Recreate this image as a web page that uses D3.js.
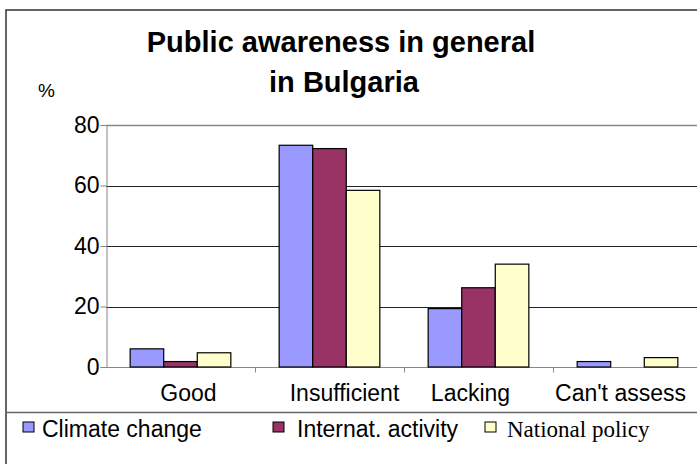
<!DOCTYPE html>
<html>
<head>
<meta charset="utf-8">
<script src="https://cdn.jsdelivr.net/npm/d3@7"></script>
<style>
  html, body { margin: 0; padding: 0; background: #fff; }
  svg { display: block; font-family: "Liberation Sans", Arial, sans-serif; }
</style>
</head>
<body>
<div id="chart"></div>
<script>
// data
const categories = ["Good", "Insufficient", "Lacking", "Can't assess"];
const seriesNames = ["Climate change", "Internat. activity", "National policy"];
const climateChange = [6, 73.3, 19.3, 1.8];
const internatActivity = [1.8, 72.2, 26.2, 0];
const nationalPolicy = [4.7, 58.4, 34, 3.1];
const yTicks = [0, 20, 40, 60, 80];
const colors = ["#9999ff", "#993366", "#ffffcc"];

const W = 697, H = 464;
const plot = { left: 106, right: 702, top: 125, bottom: 367 };
// the category labels are not quite centred under their groups in the original
const labelShift = [8, 15, -8, -7];

const svg = d3.select("#chart").append("svg")
    .attr("width", W)
    .attr("height", H);

// outer frame, runs off the right/bottom like the picture
svg.append("rect")
    .attr("x", 6).attr("y", 10)
    .attr("width", 760).attr("height", 500)
    .attr("fill", "none")
    .attr("stroke", "#333")
    .attr("stroke-width", 1.5);

const x0 = d3.scaleBand()
    .domain(categories)
    .range([plot.left, plot.right]);

const x1 = d3.scaleBand()
    .domain(seriesNames)
    .range([0, x0.bandwidth()])
    .paddingOuter(0.72)
    .paddingInner(0);

const y = d3.scaleLinear()
    .domain([0, 80])
    .range([plot.bottom, plot.top]);

// gridlines
svg.append("g")
    .selectAll("line")
    .data(yTicks.filter(d => d > 0))
    .join("line")
    .attr("x1", plot.left).attr("x2", W)
    .attr("y1", d => Math.round(y(d)) + 0.5)
    .attr("y2", d => Math.round(y(d)) + 0.5)
    .attr("stroke", d => d === 80 ? "#888" : "#222")
    .attr("stroke-width", d => d === 80 ? 1.5 : 1);

// y axis
const yAxis = svg.append("g")
    .attr("transform", `translate(${plot.left + 0.5},0)`)
    .call(d3.axisLeft(y).tickValues(yTicks).tickSize(6).tickPadding(1));
yAxis.select(".domain").attr("stroke", "#888");
yAxis.selectAll(".tick line").attr("stroke", "#888");
yAxis.selectAll("text")
    .attr("fill", "#000")
    .style("font-size", "23px");

// x axis: ticks sit between categories
const xAxis = svg.append("g")
    .attr("transform", `translate(0,${plot.bottom + 0.5})`);
xAxis.append("line")
    .attr("x1", plot.left).attr("x2", W)
    .attr("stroke", "#888");
xAxis.selectAll(".sep")
    .data(categories.slice(1))
    .join("line")
    .attr("class", "sep")
    .attr("x1", d => Math.round(x0(d)) + 0.5)
    .attr("x2", d => Math.round(x0(d)) + 0.5)
    .attr("y1", 0).attr("y2", 5)
    .attr("stroke", "#888");
xAxis.selectAll("text")
    .data(categories)
    .join("text")
    .attr("x", (d, i) => x0(d) + x0.bandwidth() / 2 + labelShift[i])
    .attr("y", 33)
    .attr("text-anchor", "middle")
    .style("font-size", "23px")
    .text(d => d);

// bars
const rows = categories.map((c, i) => ({
    cat: c,
    values: [climateChange[i], internatActivity[i], nationalPolicy[i]]
}));

svg.append("g")
    .selectAll("g")
    .data(rows)
    .join("g")
    .attr("transform", d => `translate(${x0(d.cat)},0)`)
    .selectAll("rect")
    .data(d => d.values.map((v, j) => ({ name: seriesNames[j], v, j })))
    .join("rect")
    .filter(d => d.v > 0)
    .attr("x", d => x1(d.name))
    .attr("y", d => y(d.v))
    .attr("width", x1.bandwidth())
    .attr("height", d => y(0) - y(d.v))
    .attr("fill", d => colors[d.j])
    .attr("stroke", "#000")
    .attr("stroke-width", 1.2);

// title
const title = svg.append("text")
    .attr("text-anchor", "middle")
    .style("font-size", "29px")
    .style("font-weight", "bold");
title.append("tspan").attr("x", 341).attr("y", 52).text("Public awareness in general");
title.append("tspan").attr("x", 344).attr("y", 92).text("in Bulgaria");

svg.append("text")
    .attr("x", 38).attr("y", 97)
    .style("font-size", "19px")
    .text("%");

// legend strip
svg.append("line")
    .attr("x1", 6).attr("x2", W)
    .attr("y1", 412.5).attr("y2", 412.5)
    .attr("stroke", "#666")
    .attr("stroke-width", 1.5);

const legendX = [23, 273, 485];
const legend = svg.append("g")
    .selectAll("g")
    .data(seriesNames)
    .join("g")
    .attr("transform", (d, i) => `translate(${legendX[i]},422)`);
legend.append("rect")
    .attr("width", 11).attr("height", 10)
    .attr("fill", (d, i) => colors[i])
    .attr("stroke", "#000");
legend.append("text")
    .attr("x", (d, i) => [19, 24, 22][i])
    .attr("y", 15)
    .style("font-size", "23px")
    .style("font-family", (d, i) => i === 2 ? "'Liberation Serif', 'Times New Roman', serif" : null)
    .text(d => d);
</script>
</body>
</html>
